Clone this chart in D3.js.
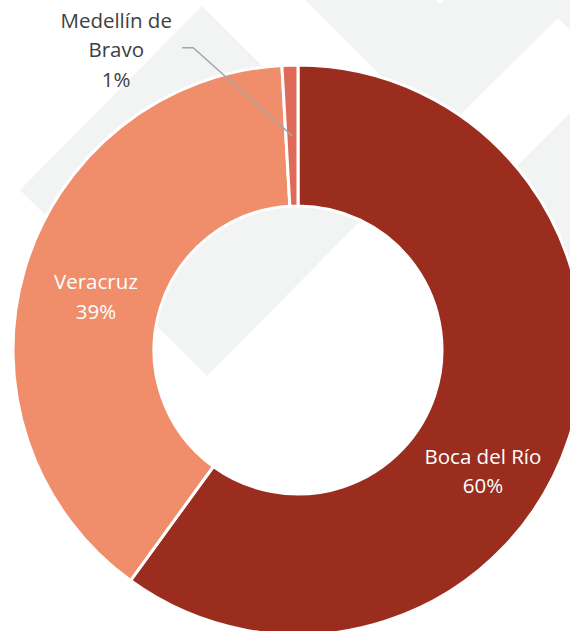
<!DOCTYPE html>
<html>
<head>
<meta charset="utf-8">
<script src="https://cdn.jsdelivr.net/npm/d3@7"></script>
<style>
  body { margin: 0; background: #fff; }
  svg { display: block; }
  text { font-family: "Open Sans", sans-serif; font-size: 20.5px; }
</style>
</head>
<body>
<svg width="570" height="631"></svg>
<script>
// data
const categories = ["Boca del Río", "Veracruz", "Medellín de"];
const labelNames = [["Boca del Río"], ["Veracruz"], ["Medellín de", "Bravo"]];
const shares = [60.0, 39.1, 0.9];
const colors = ["#9b2d1f", "#f08e6b", "#e06a5a"];
const labelColors = ["#ffffff", "#ffffff", "#404040"];

// layout
const cx = 298, cy = 350;
const outerR = 285, innerR = 144;
const lineH = 29.5;
// label centres as [degrees clockwise from top, radius]
const labelAt = [[123.2, 221], [284.8, 209], [328.8, 351]];

// light gray watermark behind the chart
const watermark = [
  [[202, 6], [20, 190], [207, 376], [389, 192]],
  [[305, 0], [440, 135], [558, 18], [570, 30], [570, 0], [444, 0], [440, 4], [436, 0]],
  [[570, 113], [440, 243], [570, 373]]
];

let svg = d3.select("svg");

svg.append("g")
  .selectAll("polygon")
  .data(watermark)
  .enter()
  .append("polygon")
  .attr("points", d => d.map(p => p.join(",")).join(" "))
  .attr("fill", "#f2f3f3");

const pie = d3.pie().sort(null).value(d => d);
const arcs = pie(shares);
const arc = d3.arc().innerRadius(innerR).outerRadius(outerR);

let g = svg.append("g").attr("transform", `translate(${cx},${cy})`);

g.selectAll("path")
  .data(arcs)
  .enter()
  .append("path")
  .attr("d", arc)
  .attr("fill", (d, i) => colors[i])
  .attr("stroke", "#fff")
  .attr("stroke-width", 3)
  .attr("stroke-linejoin", "round");

// labels
const deg = Math.PI / 180;
arcs.forEach(function (d, i) {
  let pos = d3.pointRadial(labelAt[i][0] * deg, labelAt[i][1]);
  let lines = labelNames[i].concat([Math.round(shares[i]) + "%"]);
  let first = pos[1] - (lines.length - 1) * lineH / 2 + 7.3;
  let t = g.append("text")
    .attr("text-anchor", "middle")
    .attr("fill", labelColors[i]);
  lines.forEach(function (s, k) {
    t.append("tspan")
      .attr("x", pos[0])
      .attr("y", first + k * lineH)
      .text(s);
  });

  // leader line for the small outside label
  if (i === 2) {
    let c = arc.centroid(d);
    let start = [pos[0] + 66, pos[1] - 2];
    let elbow = [start[0] + 11, start[1]];
    g.append("path")
      .attr("d", d3.line()([start, elbow, c]))
      .attr("fill", "none")
      .attr("stroke", "#a6a6a6")
      .attr("stroke-width", 1.5);
  }
});
</script>
</body>
</html>
